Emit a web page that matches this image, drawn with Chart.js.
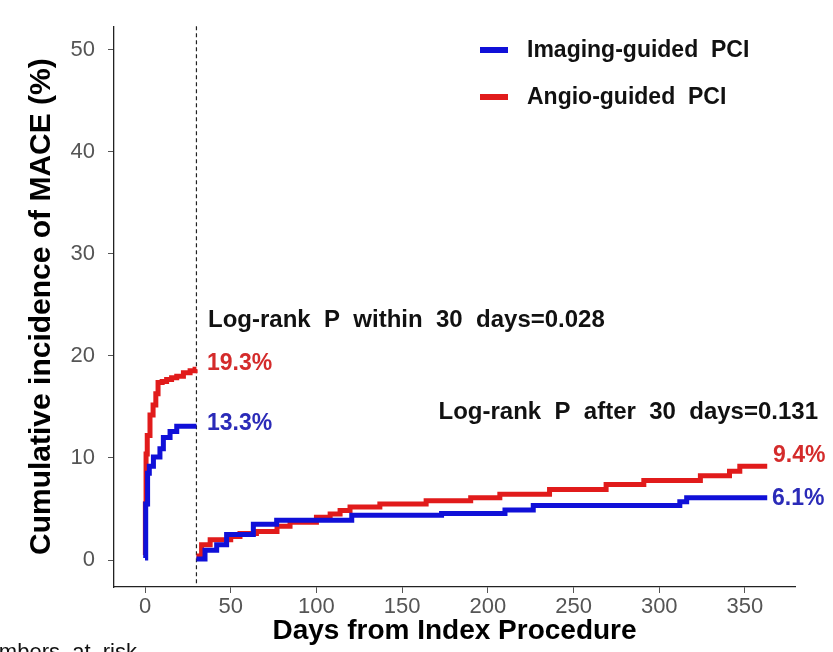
<!DOCTYPE html>
<html>
<head>
<meta charset="utf-8">
<script src="https://cdn.jsdelivr.net/npm/chart.js@4.4.1/dist/chart.umd.min.js"></script>
<style>
  html, body { margin: 0; padding: 0; background: #fff; overflow: hidden; }
  #wrap { width: 833px; height: 652px; }
</style>
</head>
<body>
<div id="wrap"><canvas id="km" width="833" height="652"></canvas></div>
<script>
// tick labels
const xTicks = [0, 50, 100, 150, 200, 250, 300, 350];
const yTicks = [0, 10, 20, 30, 40, 50];

// Imaging-guided PCI, landmark 0-30 days
const imgEarlyDays = [0, 0.4, 1.5, 2.5, 4.9, 8.7, 10.7, 14.6, 18.5, 30];
const imgEarlyPct  = [0.2, 5.5, 8.5, 9.2, 10.1, 10.9, 12.0, 12.6, 13.1, 13.1];

// Angio-guided PCI, landmark 0-30 days
const angEarlyDays = [0, 0.2, 0.6, 1.3, 2.9, 4.7, 6.3, 7.6, 10, 12.6, 15.5, 18.5, 22.4, 26.3, 29.2, 30];
const angEarlyPct  = [0.5, 5.5, 10.4, 12.2, 14.2, 15.2, 16.3, 17.4, 17.5, 17.7, 17.85, 18.0, 18.35, 18.55, 18.7, 18.7];

// Imaging-guided PCI, after 30 days
const imgLateDays = [30, 35, 41.8, 47.6, 63.2, 76.8, 120.6, 173, 210, 226.5, 312, 316, 363];
const imgLatePct  = [0.1, 0.95, 1.5, 2.5, 3.5, 3.9, 4.4, 4.55, 4.9, 5.35, 5.7, 6.1, 6.1];

// Angio-guided PCI, after 30 days
const angLateDays = [30, 33, 38, 50, 55.4, 65, 77, 84.6, 100, 108, 113.8, 119.6, 137, 164, 190, 207, 236, 269, 291, 324, 341, 347, 363];
const angLatePct  = [0.4, 1.5, 2.0, 2.3, 2.6, 2.8, 3.3, 3.7, 4.2, 4.5, 4.85, 5.2, 5.5, 5.8, 6.1, 6.45, 6.9, 7.4, 7.8, 8.25, 8.7, 9.2, 9.2];

const groupNames = ['Imaging-guided  PCI', 'Angio-guided  PCI'];
const landmarkDay = 30;

const BLUE = '#1010d8';
const RED = '#e11b1b';
const FONT = "'Liberation Sans', Arial, sans-serif";

Chart.defaults.font.family = FONT;
Chart.defaults.color = '#4d4d4d';

function zip(days, pct) {
  return days.map((d, i) => ({ x: d, y: pct[i] }));
}

function kmLine(label, days, pct, color) {
  return {
    label,
    data: zip(days, pct),
    borderColor: color,
    backgroundColor: color,
    borderWidth: 5,
    stepped: true,
    pointRadius: 0,
    fill: false,
  };
}

const annotate = {
  id: 'annotate',
  beforeDatasetsDraw(chart) {
    const { ctx, chartArea, scales } = chart;
    const x = scales.x.getPixelForValue(landmarkDay);
    ctx.save();
    ctx.strokeStyle = '#222';
    ctx.lineWidth = 1.2;
    ctx.setLineDash([4, 3]);
    ctx.beginPath();
    ctx.moveTo(x, chartArea.top);
    ctx.lineTo(x, chartArea.bottom);
    ctx.stroke();
    ctx.restore();
  },
  afterDraw(chart) {
    const { ctx } = chart;
    ctx.save();
    ctx.textBaseline = 'alphabetic';

    // legend
    [[BLUE, 50, 57], [RED, 97, 104]].forEach(([c, ly, ty], i) => {
      ctx.fillStyle = c;
      ctx.fillRect(480, ly - 3, 28, 6);
      ctx.fillStyle = '#111';
      ctx.font = `bold 23px ${FONT}`;
      ctx.textAlign = 'left';
      ctx.fillText(groupNames[i], 527, ty);
    });

    ctx.font = `bold 24px ${FONT}`;
    ctx.fillStyle = '#111';
    ctx.fillText('Log-rank  P  within  30  days=0.028', 208, 327);
    ctx.textAlign = 'right';
    ctx.fillText('Log-rank  P  after  30  days=0.131', 818, 419);

    ctx.textAlign = 'left';
    ctx.font = `bold 23px ${FONT}`;
    ctx.fillStyle = '#d42b2b';
    ctx.fillText('19.3%', 207, 370);
    ctx.fillText('9.4%', 773, 462);
    ctx.fillStyle = '#2b2bb8';
    ctx.fillText('13.3%', 207, 430);
    ctx.fillText('6.1%', 772, 505);

    ctx.fillStyle = '#111';
    ctx.font = `22px ${FONT}`;
    ctx.textAlign = 'right';
    ctx.fillText('Numbers  at  risk', 137, 659);
    ctx.restore();
  }
};

new Chart(document.getElementById('km'), {
  type: 'line',
  data: {
    datasets: [
      kmLine(groupNames[0], imgEarlyDays, imgEarlyPct, BLUE),
      kmLine(groupNames[0], imgLateDays, imgLatePct, BLUE),
      kmLine(groupNames[1], angEarlyDays, angEarlyPct, RED),
      kmLine(groupNames[1], angLateDays, angLatePct, RED),
    ],
  },
  options: {
    responsive: false,
    animation: false,
    devicePixelRatio: 1,
    layout: { padding: { top: 10, right: 38, bottom: 0, left: 0 } },
    plugins: { legend: { display: false }, tooltip: { enabled: false } },
    scales: {
      x: {
        type: 'linear',
        min: -18.1,
        max: 379.2,
        afterBuildTicks: axis => { axis.ticks = xTicks.map(v => ({ value: v })); },
        afterFit: axis => { axis.height = 65; },
        grid: { drawOnChartArea: false, drawTicks: true, tickLength: 6, color: '#555' },
        border: { display: true, color: '#222', width: 1.3 },
        ticks: { font: { size: 22 }, color: '#555', padding: 1, maxRotation: 0 },
        title: {
          display: true,
          text: 'Days from Index Procedure',
          color: '#000',
          font: { size: 28, weight: 'bold' },
          padding: { top: 0, bottom: 4 },
        },
      },
      y: {
        type: 'linear',
        min: -2.64,
        max: 52.3,
        afterBuildTicks: axis => { axis.ticks = yTicks.map(v => ({ value: v })); },
        afterFit: axis => { axis.width = 114; },
        grid: { drawOnChartArea: false, drawTicks: true, tickLength: 6, color: '#555' },
        border: { display: true, color: '#222', width: 1.3 },
        ticks: { font: { size: 22 }, color: '#555', padding: 13 },
        title: {
          display: true,
          text: 'Cumulative incidence of MACE (%)',
          color: '#000',
          font: { size: 30, weight: 'bold' },
          padding: { top: 24, bottom: 0 },
        },
      },
    },
  },
  plugins: [annotate],
});
</script>
</body>
</html>
